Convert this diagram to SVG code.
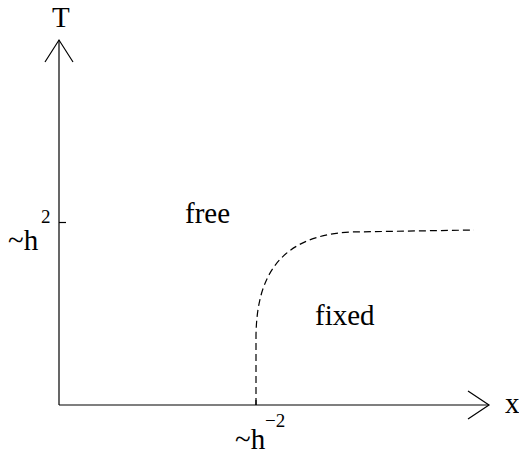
<svg xmlns="http://www.w3.org/2000/svg" width="519" height="456" viewBox="0 0 519 456">
<style>
.ax{stroke:#000;stroke-width:1.2;fill:none}
.t{font-family:"Liberation Serif","Times New Roman",serif;font-size:29px;fill:#000}
.s{font-family:"Liberation Serif","Times New Roman",serif;font-size:19px;fill:#000}
</style>
<rect width="519" height="456" fill="#fff"/>
<g id="connectors">
<path class="ax" d="M59,405 L59,40"/>
<path class="ax" d="M45,62 L59,40 L73,62"/>
<path class="ax" d="M59,405 L489,405"/>
<path class="ax" d="M468,391 L489,405 L468,419"/>
<path class="ax" d="M59,222.5 L66,222.5"/>
<path class="ax" d="M256,405 L256,400"/>
<path class="ax" d="M256,405 L256,335 C257,272 283,236 350,232 L474,230" stroke-dasharray="7,4"/>
</g>
<g id="label-T"><text class="t" x="52" y="27">T</text></g>
<g id="label-x"><text class="t" x="505" y="413">x</text></g>
<g id="label-h2"><text class="t" x="8" y="250">~h</text><text class="s" x="41" y="223">2</text></g>
<g id="label-hm2"><text class="t" x="235" y="449">~h</text><text class="s" x="265" y="427">−2</text></g>
<g id="region-free"><text class="t" x="185" y="223">free</text></g>
<g id="region-fixed"><text class="t" x="315" y="325">fixed</text></g>
</svg>
